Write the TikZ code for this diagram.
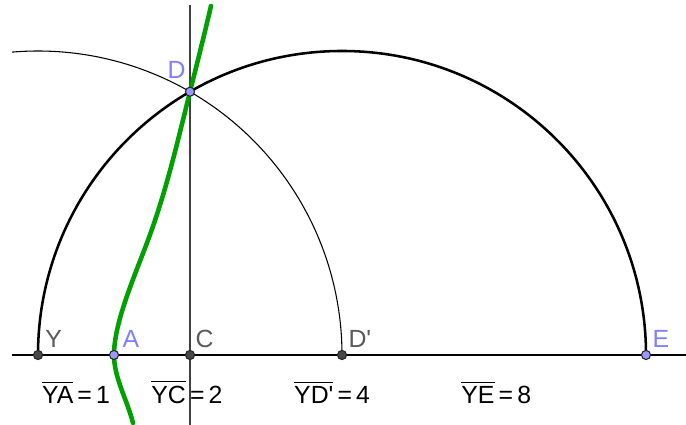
\documentclass[tikz,border=0pt]{standalone}
\usepackage{fontspec}
\setmainfont{Liberation Sans}[Ligatures=TeXOff]
\definecolor{ptblue}{RGB}{153,153,255}
\definecolor{lblblue}{RGB}{128,128,255}
\definecolor{ptgray}{RGB}{72,72,72}
\definecolor{lblgray}{RGB}{90,90,90}
\definecolor{curvegreen}{RGB}{0,160,0}
\newcommand{\seg}[1]{$\overline{\mbox{#1}}$}

\begin{document}
\begin{tikzpicture}[
  pt/.style={draw=black!85, circle, fill=#1, inner sep=0pt,
             minimum size=1.2mm, line width=0.4pt},
  lbl/.style={font=\fontsize{9.3}{10}\selectfont, text=#1, inner sep=0pt,
              anchor=base west},
  eq/.style={font=\fontsize{9.3}{10}\selectfont, inner sep=0pt, anchor=base},
  axis/.style={line width=0.5pt},
  thin arc/.style={line width=0.4pt},
  thick arc/.style={line width=0.95pt},
  curve/.style={draw=curvegreen, line width=1.7pt, line cap=round}
]
  \useasboundingbox (-0.5,-0.921) rectangle (8.526,4.671);

  % Points sur la droite
  \coordinate (Y)  at (0,0);
  \coordinate (A)  at (1,0);
  \coordinate (C)  at (2,0);
  \coordinate (Dp) at (4,0);
  \coordinate (E)  at (8,0);
  \coordinate (D)  at (2,{sqrt(12)});
  \coordinate (left)   at (-0.342,0);
  \coordinate (right)  at (8.526,0);
  \coordinate (top)    at (2,4.605);
  \coordinate (bottom) at (2,-0.921);
  \coordinate (gbot)   at (1.25,-0.895);
  \coordinate (gmid)   at (1.48,1.6);
  \coordinate (gtop)   at (2.276,4.592);

  % Droites
  \draw[axis] (left) -- (right);
  \draw[thin arc, draw=black!75] (bottom) -- (top);

  % Arcs
  \draw[thick arc] (Y) arc[start angle=180, end angle=0, radius=4];
  \draw[thin arc] (Dp) arc[start angle=0, end angle=94.9, radius=4];

  % Courbe
  \draw[curve] (gbot) .. controls (1.175,-0.595) and (1,-0.3) .. (A)
    .. controls (1,0.45) and (1.3,1.1) .. (gmid)
    .. controls (1.703,2.22) and (1.845,2.844) .. (D)
    .. controls (2.094,3.84) and (2.19,4.22) .. (gtop);

  % Points
  \node[pt=ptgray] (y)  at (Y)  {};
  \node[pt=ptblue] (a)  at (A)  {};
  \node[pt=ptgray] (c)  at (C)  {};
  \node[pt=ptgray] (dp) at (Dp) {};
  \node[pt=ptblue] (e)  at (E)  {};
  \node[pt=ptblue] (d)  at (D)  {};

  % Etiquettes
  \node[lbl=lblgray] (ylbl)  at ([shift={(0.09,0.105)}]Y)   {Y};
  \node[lbl=lblblue] (albl)  at ([shift={(0.105,0.105)}]A)  {A};
  \node[lbl=lblgray] (clbl)  at ([shift={(0.066,0.105)}]C)  {C};
  \node[lbl=lblgray] (dplbl) at ([shift={(0.079,0.105)}]Dp) {D'};
  \node[lbl=lblblue] (elbl)  at ([shift={(0.079,0.105)}]E)  {E};
  \node[lbl=lblblue] (dlbl)  at ([shift={(-0.303,0.18)}]D)  {D};

  % Longueurs
  \node[eq] (ya)  at (0.5,-0.632)  {\seg{YA}\,=\,1};
  \node[eq] (yc)  at (1.96,-0.632) {\seg{YC}\,=\,2};
  \node[eq] (ydp) at (3.87,-0.632) {\seg{YD'}\,=\,4};
  \node[eq] (ye)  at (6.03,-0.632) {\seg{YE}\,=\,8};
\end{tikzpicture}
\end{document}
